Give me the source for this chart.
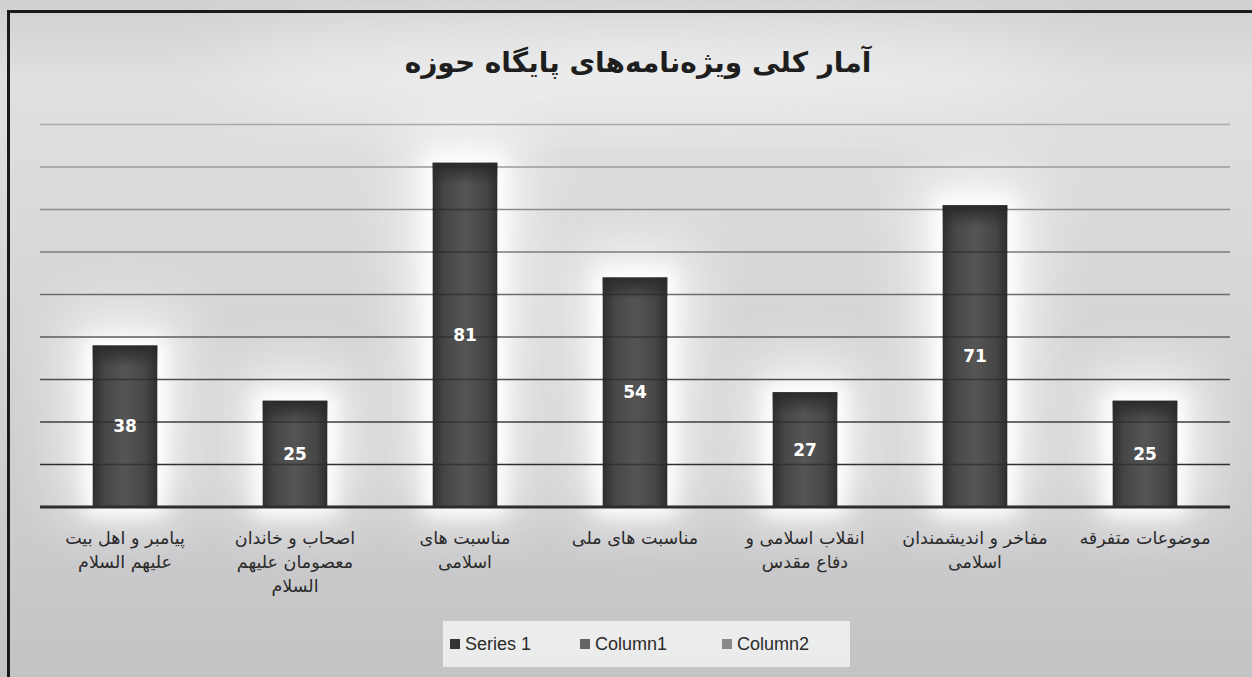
<!DOCTYPE html>
<html>
<head>
<meta charset="utf-8">
<script src="https://cdn.jsdelivr.net/npm/d3@7"></script>
<style>
  html, body { margin: 0; padding: 0; background: #fff; }
  #chart { width: 1252px; height: 677px; }
</style>
</head>
<body>
<div id="chart"></div>
<script>
// chart data
const title = "آمار کلی ویژه‌نامه‌های پایگاه حوزه";
const categories = [
  "پیامبر و اهل بیت علیهم السلام",
  "اصحاب و خاندان معصومان علیهم السلام",
  "مناسبت های اسلامی",
  "مناسبت های ملی",
  "انقلاب اسلامی و دفاع مقدس",
  "مفاخر و اندیشمندان اسلامی",
  "موضوعات متفرقه",
];
// wrapped lines of each category label, as in the picture
const categoryLines = [
  ["پیامبر و اهل بیت", "علیهم السلام"],
  ["اصحاب و خاندان", "معصومان علیهم", "السلام"],
  ["مناسبت های", "اسلامی"],
  ["مناسبت های ملی"],
  ["انقلاب اسلامی و", "دفاع مقدس"],
  ["مفاخر و اندیشمندان", "اسلامی"],
  ["موضوعات متفرقه"],
];
const series1 = [38, 25, 81, 54, 27, 71, 25];
const legendNames = ["Series 1", "Column1", "Column2"];
const yTicks = [10, 20, 30, 40, 50, 60, 70, 80, 90];

const width = 1252;
const height = 677;
const margin = { top: 124.5, right: 22, bottom: 170, left: 40 };

const svg = d3
  .select("#chart")
  .append("svg")
  .attr("width", width)
  .attr("height", height)
  .attr("viewBox", `0 0 ${width} ${height}`);

const defs = svg.append("defs");

// background gradient
const bg = defs
  .append("linearGradient")
  .attr("id", "bg")
  .attr("x1", 0).attr("y1", 0)
  .attr("x2", 0).attr("y2", 1);
bg.append("stop").attr("offset", "0%").attr("stop-color", "#cfd0d2");
bg.append("stop").attr("offset", "12%").attr("stop-color", "#e0e0e1");
bg.append("stop").attr("offset", "45%").attr("stop-color", "#d6d6d7");
bg.append("stop").attr("offset", "80%").attr("stop-color", "#cbcbcd");
bg.append("stop").attr("offset", "100%").attr("stop-color", "#c2c3c5");

// bar fill
const barGrad = defs
  .append("linearGradient")
  .attr("id", "barGrad")
  .attr("x1", 0).attr("y1", 0)
  .attr("x2", 1).attr("y2", 0);
barGrad.append("stop").attr("offset", "0%").attr("stop-color", "#2e2e2e");
barGrad.append("stop").attr("offset", "18%").attr("stop-color", "#464646");
barGrad.append("stop").attr("offset", "50%").attr("stop-color", "#555556");
barGrad.append("stop").attr("offset", "82%").attr("stop-color", "#464646");
barGrad.append("stop").attr("offset", "100%").attr("stop-color", "#2e2e2e");

const barTop = defs
  .append("linearGradient")
  .attr("id", "barTop")
  .attr("x1", 0).attr("y1", 0)
  .attr("x2", 0).attr("y2", 1);
barTop.append("stop").attr("offset", "0%").attr("stop-color", "#2a2a2a").attr("stop-opacity", 1);
barTop.append("stop").attr("offset", "100%").attr("stop-color", "#2a2a2a").attr("stop-opacity", 0);

const glowWide = defs.append("filter").attr("id", "glowWide")
  .attr("x", "-150%").attr("y", "-100%")
  .attr("width", "400%").attr("height", "300%");
glowWide.append("feGaussianBlur").attr("stdDeviation", 28);

const glow = defs.append("filter").attr("id", "glow")
  .attr("x", "-100%").attr("y", "-100%")
  .attr("width", "300%").attr("height", "300%");
glow.append("feGaussianBlur").attr("stdDeviation", 9);

const softBlur = defs.append("filter").attr("id", "soft")
  .attr("x", "-50%").attr("y", "-50%")
  .attr("width", "200%").attr("height", "200%");
softBlur.append("feGaussianBlur").attr("stdDeviation", 40);

svg.append("rect")
  .attr("width", width)
  .attr("height", height)
  .attr("fill", "url(#bg)");

// faint light area behind the title
svg.append("ellipse")
  .attr("cx", 640).attr("cy", 70)
  .attr("rx", 420).attr("ry", 40)
  .attr("fill", "#ffffff")
  .attr("opacity", 0.55)
  .attr("filter", "url(#soft)");

// frame, only top and left edges are visible
svg.append("path")
  .attr("d", `M8.5,${height} V11.5 H${width}`)
  .attr("fill", "none")
  .attr("stroke", "#1a1a1a")
  .attr("stroke-width", 3);

const xScale = d3
  .scaleBand()
  .domain(categories)
  .range([margin.left, width - margin.right])
  .paddingInner(0.62)
  .paddingOuter(0.31);

const yScale = d3
  .scaleLinear()
  .domain([0, 90])
  .range([height - margin.bottom, margin.top]);

const lineColor = d3
  .scaleLinear()
  .domain([10, 90])
  .range(["#2f2f2f", "#a9a9aa"]);

// white glow behind bars: a wide soft halo and a tight bright one
const glowLayer = svg.append("g").attr("class", "glow");
glowLayer.selectAll("rect.wide")
  .data(series1)
  .join("rect")
  .attr("class", "wide")
  .attr("x", (d, i) => xScale(categories[i]) - 25)
  .attr("y", (d) => yScale(d) - 30)
  .attr("width", xScale.bandwidth() + 50)
  .attr("height", (d) => yScale(0) - yScale(d) + 40)
  .attr("fill", "#ffffff")
  .attr("opacity", 0.8)
  .attr("filter", "url(#glowWide)");
glowLayer.selectAll("rect.tight")
  .data(series1)
  .join("rect")
  .attr("class", "tight")
  .attr("x", (d, i) => xScale(categories[i]) - 8)
  .attr("y", (d) => yScale(d) - 8)
  .attr("width", xScale.bandwidth() + 16)
  .attr("height", (d) => yScale(0) - yScale(d) + 16)
  .attr("fill", "#ffffff")
  .attr("opacity", 1)
  .attr("filter", "url(#glow)");

// gridlines
const grid = svg.append("g").attr("class", "grid");
grid.selectAll("line")
  .data(yTicks)
  .join("line")
  .attr("x1", margin.left)
  .attr("x2", width - margin.right)
  .attr("y1", (d) => yScale(d))
  .attr("y2", (d) => yScale(d))
  .attr("stroke", (d) => lineColor(d))
  .attr("stroke-width", 1.5);

// bars
const bars = svg.append("g").attr("class", "bars");
bars.selectAll("rect.bar")
  .data(series1)
  .join("rect")
  .attr("class", "bar")
  .attr("x", (d, i) => xScale(categories[i]))
  .attr("y", (d) => yScale(d))
  .attr("width", xScale.bandwidth())
  .attr("height", (d) => yScale(0) - yScale(d))
  .attr("fill", "url(#barGrad)");

bars.selectAll("rect.top")
  .data(series1)
  .join("rect")
  .attr("class", "top")
  .attr("x", (d, i) => xScale(categories[i]))
  .attr("y", (d) => yScale(d))
  .attr("width", xScale.bandwidth())
  .attr("height", 22)
  .attr("fill", "url(#barTop)");

// gridlines seen through the bars
series1.forEach((v, i) => {
  bars.append("g")
    .selectAll("line")
    .data(yTicks.filter((t) => t < v))
    .join("line")
    .attr("x1", xScale(categories[i]))
    .attr("x2", xScale(categories[i]) + xScale.bandwidth())
    .attr("y1", (d) => yScale(d))
    .attr("y2", (d) => yScale(d))
    .attr("stroke", "#2b2b2b")
    .attr("stroke-opacity", 0.7)
    .attr("stroke-width", 1.5);
});

// baseline
svg.append("line")
  .attr("x1", margin.left)
  .attr("x2", width - margin.right)
  .attr("y1", yScale(0))
  .attr("y2", yScale(0))
  .attr("stroke", "#2d2d2d")
  .attr("stroke-width", 3);

// data labels
svg.append("g")
  .selectAll("text")
  .data(series1)
  .join("text")
  .attr("x", (d, i) => xScale(categories[i]) + xScale.bandwidth() / 2)
  .attr("y", (d) => (yScale(d) + yScale(0)) / 2)
  .attr("dy", "0.35em")
  .attr("text-anchor", "middle")
  .attr("fill", "#ffffff")
  .style("font-family", "'DejaVu Sans', sans-serif")
  .style("font-weight", "bold")
  .style("font-size", "17px")
  .text((d) => d);

// category labels
const xLabels = svg.append("g").attr("class", "x-labels");
categories.forEach((c, i) => {
  const t = xLabels.append("text")
    .attr("x", xScale(c) + xScale.bandwidth() / 2)
    .attr("y", yScale(0) + 37)
    .attr("text-anchor", "middle")
    .attr("direction", "rtl")
    .attr("fill", "#2a2a2a")
    .style("font-family", "'DejaVu Sans', sans-serif")
    .style("font-size", "17.5px");
  categoryLines[i].forEach((line, j) => {
    t.append("tspan")
      .attr("x", xScale(c) + xScale.bandwidth() / 2)
      .attr("dy", j === 0 ? 0 : 24)
      .text(line);
  });
});

// title
svg.append("text")
  .attr("x", 638)
  .attr("y", 72)
  .attr("text-anchor", "middle")
  .attr("direction", "rtl")
  .attr("fill", "#1e1e1e")
  .style("font-family", "'DejaVu Sans', sans-serif")
  .style("font-weight", "bold")
  .style("font-size", "28px")
  .text(title);

// legend
const legendColors = ["#333333", "#646464", "#8a8a8a"];
const legendX = [450, 580, 722];
const legend = svg.append("g");
legend.append("rect")
  .attr("x", 443)
  .attr("y", 621)
  .attr("width", 407)
  .attr("height", 46)
  .attr("fill", "#efefef")
  .attr("opacity", 0.9);

legendNames.forEach((name, i) => {
  const row = legend.append("g")
    .attr("transform", `translate(${legendX[i]}, 644)`);
  row.append("rect")
    .attr("x", 0)
    .attr("y", -5)
    .attr("width", 10)
    .attr("height", 10)
    .attr("fill", legendColors[i]);
  row.append("text")
    .attr("x", 15)
    .attr("y", 0)
    .attr("dy", "0.35em")
    .attr("fill", "#2a2a2a")
    .style("font-family", "'Liberation Sans', Arial, sans-serif")
    .style("font-size", "18px")
    .text(name);
});
</script>
</body>
</html>
